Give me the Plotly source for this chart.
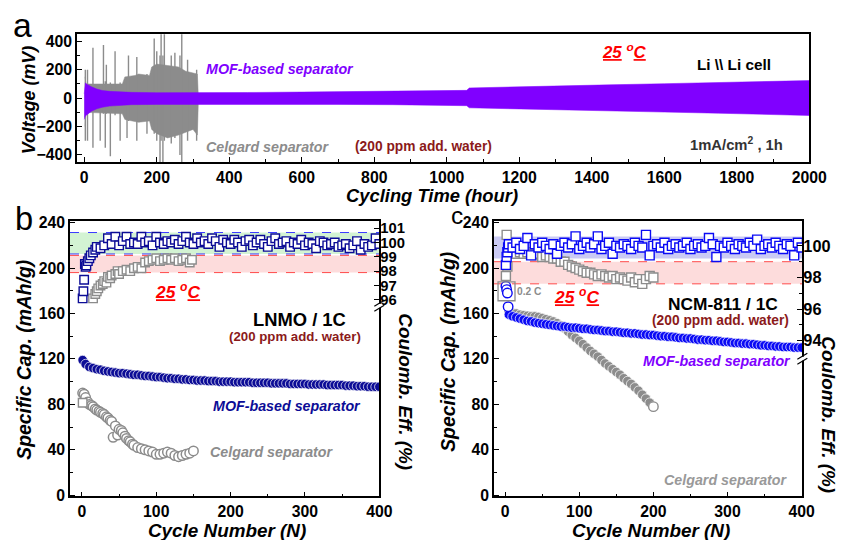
import plotly.graph_objects as go

FW, FH = 848, 540
# calibration of the photographed page (measured from previous renders)
SX, SY = 0.981, 0.976
OX, OY = 8, 14
FS = 1.02
FONT = 'Liberation Sans'


def px(x):
    return (x / SX - OX) / FW


def py(y):
    return 1 - (y / SY - OY) / FH


# ---------------- Panel a : Li || Li symmetric cell ----------------
mof_t = [0, 1, 3, 6, 12, 20, 35, 50, 70, 90, 130, 200, 300, 450, 600, 700, 850,
         1000, 1055, 1062, 1150, 1300, 1450, 1600, 1750, 1900, 2000]
mof_up = [30, 95, 108, 100, 90, 80, 64, 54, 48, 44, 41, 39, 38, 40, 43, 45, 48,
          52, 55, 72, 78, 86, 94, 102, 110, 118, 124]
mof_low = [-150, -140, -125, -118, -105, -92, -75, -64, -56, -50, -46, -44, -42, -42,
           -43, -44, -46, -50, -53, -68, -74, -82, -90, -98, -106, -114, -122]

cg_t = [2, 5, 60, 105, 112, 140, 150, 180, 186, 200, 230, 260, 280, 300, 312, 315]
cg_up = [150, 100, 100, 100, 150, 160, 170, 160, 220, 240, 230, 220, 190, 180, 170, 0]
cg_low = [-200, -100, -105, -110, -150, -165, -170, -160, -220, -250, -280, -260,
          -240, -220, -260, 0]

spike_t = [3, 9, 24, 44, 53, 58, 61, 72, 85, 99, 118, 122, 145, 173, 193, 200, 209,
           212, 217, 221, 240, 250, 264, 269, 285, 310]
spike_hi = [200, 200, 355, 100, 375, 120, 235, 110, 330, 110, 150, 300, 290, 170, 420,
            330, 300, 480, 300, 480, 300, 320, 300, 480, 270, 200]
spike_lo = [-300, -300, -350, -300, -110, -350, -110, -410, -120, -300, -280, -160,
            -300, -250, -250, -300, -480, -300, -480, -300, -320, -280, -400, -480,
            -300, -300]

# ---------------- Panel b : LNMO / 1C ----------------
b_mof_cyc = [1] + list(range(5, 401, 5))
b_mof_cap = [119, 115.5, 113, 112, 111, 110.5, 109.5, 109, 108.5, 108, 107.5, 107.5,
             107, 106.5, 106, 106, 105.5, 105, 105, 104.5, 104, 104, 103.5, 103, 103,
             102.5, 102.5, 102, 102, 101.5, 101.5, 101, 101, 101, 100.5, 100.5, 100.5,
             100, 100, 100, 100, 99.5, 99.5, 99.5, 99.5, 99.5, 99, 99, 99, 99, 99, 98.5,
             98.5, 98.5, 98.5, 98.5, 98, 98, 98, 98, 98, 97.5, 97.5, 97.5, 97.5, 97.5,
             97, 97, 97, 97, 97, 96.5, 96.5, 96.5, 96, 96, 96, 95.5, 95.5, 95.5, 95.5]

b_mof_ce_cyc = [1, 2, 3, 4, 5, 6, 8, 10, 12, 15, 18, 20] + list(range(25, 401, 5))
b_mof_ce = [96.1, 96.6, 97.4, 98.5, 98.3, 98.4, 98.7, 98.9, 99.1, 99.3, 99.5, 99.7,
            99.6, 99.8, 100.3, 99.9, 100.4, 99.8, 100.1, 100.4, 99.9, 100.0, 99.9,
            100.4, 100.0, 100.1, 99.8, 100.4, 100.0, 99.9, 100.1, 100.0, 100.2, 99.9,
            100.1, 100.4, 100.0, 99.9, 100.3, 100.0, 100.1, 99.9, 100.3, 100.1, 99.7,
            100.2, 100.0, 99.9, 100.2, 100.0, 99.7, 100.1, 100.2, 99.8, 100.0, 100.2,
            99.9, 99.7, 100.1, 100.3, 99.9, 100.0, 100.1, 99.7, 100.0, 99.9, 100.2,
            99.8, 100.0, 99.9, 99.6, 100.1, 100.0, 99.8, 99.9, 100.0, 99.7, 99.8, 99.9,
            99.6, 99.8, 100.1, 99.5, 99.9, 99.7, 99.8, 100.3, 99.9]

b_cg_cyc = [1, 3, 5, 8, 10, 13, 15, 18, 20, 23, 25, 28, 30, 33, 35, 38, 40, 42, 45,
            48, 50, 53, 55, 58, 60, 63, 65, 68, 70, 75, 80, 85, 90, 95, 100, 105, 110,
            115, 120, 125, 130, 135, 140, 145, 150]
b_cg_cap = [90, 89, 86, 82, 80, 79, 78, 76, 75, 74, 73, 72, 71, 69, 68, 66, 65, 51, 61,
            53, 58, 57, 55, 52, 50, 48, 47, 45, 44, 42, 41, 40, 39, 38, 36, 36, 37, 38,
            37, 35, 34, 35, 36, 37, 39]

b_cg_ce_cyc = [1, 15, 18, 20, 22, 25, 28, 30, 33, 35, 38, 40, 45, 48, 50, 55, 60, 65,
               70, 75, 80, 85, 90, 95, 100, 105, 110, 115, 120, 125, 130, 135, 140,
               145, 148]
b_cg_ce = [88.8, 96.1, 96.4, 96.6, 96.8, 97.0, 97.1, 97.3, 97.2, 97.6, 97.5, 97.7,
           97.8, 98.0, 97.8, 98.0, 98.1, 98.0, 98.2, 98.3, 98.2, 98.6, 98.7, 98.8,
           98.9, 98.7, 98.8, 98.9, 98.8, 98.9, 98.7, 98.8, 98.9, 98.6, 98.8]

# ---------------- Panel c : NCM-811 / 1C ----------------
c_mof_cyc = [1, 2, 3, 4] + list(range(5, 401, 5))
c_mof_cap = [184, 181, 178, 166, 159, 157.5, 156.5, 155.5, 154.5, 153.5, 153, 152,
             151.5, 151, 150.5, 150, 149.5, 149, 148.5, 148.5, 148, 147.5, 147.5, 147,
             146.5, 146.5, 146, 145.5, 145.5, 145, 144.5, 144.5, 144, 144, 143.5, 143,
             143, 142.5, 142.5, 142, 141.5, 141.5, 141, 141, 140.5, 140, 140, 139.5,
             139.5, 139, 138.5, 138.5, 138, 138, 137.5, 137, 137, 136.5, 136.5, 136,
             136, 135.5, 135, 135, 134.5, 134, 134, 133.5, 133.5, 133, 133, 132.5,
             132, 132, 131.5, 131.5, 131, 131, 130.5, 130.5, 130.5, 130, 130, 130]

c_mof_ce_cyc = [1, 2, 3, 4] + list(range(5, 401, 5))
c_mof_ce = [98.8, 99.3, 99.6, 99.9, 100.1, 99.9, 100.2, 99.8, 100.0, 100.5, 99.4,
            100.1, 99.9, 100.2, 100.0, 99.8, 100.1, 99.5, 100.0, 100.2, 99.9, 100.1,
            100.6, 99.8, 100.0, 100.2, 99.9, 100.1, 100.6, 99.8, 100.0, 100.2, 99.5,
            100.0, 99.9, 100.1, 100.0, 99.8, 100.2, 100.0, 99.9, 100.7, 99.4, 100.0,
            100.1, 99.9, 100.2, 99.8, 100.0, 100.1, 99.9, 100.0, 100.2, 99.8, 100.0,
            100.1, 99.9, 100.0, 100.5, 100.1, 99.3, 100.0, 99.9, 100.2, 100.0, 99.8,
            100.1, 100.0, 99.9, 100.2, 100.0, 100.4, 99.8, 100.0, 100.1, 99.9, 100.2,
            100.0, 99.8, 100.1, 100.0, 99.4, 100.2, 99.9]

c_cg_cyc = list(range(5, 201, 5))
c_cg_cap = [162, 160.5, 160, 159, 158.5, 158, 157.5, 157.5, 157, 156, 155, 154, 153,
            151.5, 149.5, 147, 144, 141, 138.5, 136, 133, 130, 127, 124.5, 122, 119,
            116, 113.5, 111, 108.5, 106, 103, 100.5, 98, 95, 92, 88.5, 85, 81.5, 78]

c_cg_ce_cyc = [1, 2, 3, 5, 10, 15, 20, 25, 30, 35, 40, 45, 50, 55, 60, 65, 70, 75, 80,
               85, 90, 95, 100, 105, 110, 115, 120, 125, 130, 135, 140, 145, 150, 155,
               160, 165, 170, 175, 180, 185, 190, 195, 200]
c_cg_ce = [98.1, 100.7, 98.7, 99.5, 99.6, 99.5, 99.6, 99.5, 99.6, 99.5, 99.4, 99.5,
           99.3, 99.4, 99.3, 99.2, 99.2, 99.0, 99.0, 98.8, 98.7, 98.6, 98.5, 98.4,
           98.3, 98.3, 98.2, 98.1, 98.2, 98.1, 98.0, 98.1, 97.9, 98.0, 97.9, 97.8,
           98.0, 97.7, 97.9, 97.6, 97.9, 98.1, 98.0]

# reference bands (CE %)
b_green_band = (99.2, 100.7)
b_pink_band = (97.9, 99.1)
c_blue_band = (99.2, 100.6)
c_pink_band = (97.6, 99.0)

PURPLE = '#8000FF'
GRAY = '#8c8c8c'
NAVY = '#0c0c96'
BLUE = '#0a0af5'
DARKRED = '#8B1A1A'
RED = '#FF0000'

fig = go.Figure()

# ---- panel a traces
fig.add_trace(go.Scatter(
    x=cg_t + cg_t[::-1], y=cg_up + cg_low[::-1], fill='toself', fillcolor=GRAY,
    mode='lines', line=dict(width=0.5, color=GRAY), xaxis='x', yaxis='y',
    showlegend=False, hoverinfo='skip'))
sx, sy = [], []
for t, hi, lo in zip(spike_t, spike_hi, spike_lo):
    sx += [t, t, None]
    sy += [lo, hi, None]
fig.add_trace(go.Scatter(x=sx, y=sy, mode='lines', line=dict(width=1.4, color=GRAY),
                         xaxis='x', yaxis='y', showlegend=False, hoverinfo='skip'))
fig.add_trace(go.Scatter(
    x=mof_t + mof_t[::-1], y=mof_up + mof_low[::-1], fill='toself', fillcolor=PURPLE,
    mode='lines', line=dict(width=0.5, color=PURPLE), xaxis='x', yaxis='y',
    showlegend=False, hoverinfo='skip'))


def open_mk(color, symbol, size=8.5, lw=1.4):
    return dict(symbol=symbol, size=size, color='white', line=dict(color=color, width=lw))


def dense_mk(color, size=9.5):
    return dict(symbol='circle', size=size, color=color, line=dict(color='white', width=0.7))


# ---- panel b traces
fig.add_trace(go.Scatter(x=b_cg_cyc, y=b_cg_cap, mode='markers',
                         marker=open_mk(GRAY, 'circle', 9.5, 1.5),
                         xaxis='x2', yaxis='y2', showlegend=False))
fig.add_trace(go.Scatter(x=b_mof_cyc, y=b_mof_cap, mode='markers', marker=dense_mk(NAVY),
                         xaxis='x2', yaxis='y2', showlegend=False))
fig.add_trace(go.Scatter(x=b_cg_ce_cyc, y=b_cg_ce, mode='markers',
                         marker=open_mk(GRAY, 'square'),
                         xaxis='x2', yaxis='y3', showlegend=False))
fig.add_trace(go.Scatter(x=b_mof_ce_cyc, y=b_mof_ce, mode='markers',
                         marker=open_mk(NAVY, 'square'),
                         xaxis='x2', yaxis='y3', showlegend=False))

# ---- panel c traces
fig.add_trace(go.Scatter(x=c_cg_cyc, y=c_cg_cap, mode='markers', marker=dense_mk(GRAY),
                         xaxis='x4', yaxis='y4', showlegend=False))
fig.add_trace(go.Scatter(x=c_cg_cyc[-1:], y=c_cg_cap[-1:], mode='markers',
                         marker=open_mk(GRAY, 'circle', 9.5),
                         xaxis='x4', yaxis='y4', showlegend=False))
fig.add_trace(go.Scatter(x=c_mof_cyc[4:], y=c_mof_cap[4:], mode='markers',
                         marker=dense_mk(BLUE),
                         xaxis='x4', yaxis='y4', showlegend=False))
fig.add_trace(go.Scatter(x=c_mof_cyc[:4], y=c_mof_cap[:4], mode='markers',
                         marker=open_mk(BLUE, 'circle', 9.5),
                         xaxis='x4', yaxis='y4', showlegend=False))
fig.add_trace(go.Scatter(x=c_cg_ce_cyc, y=c_cg_ce, mode='markers',
                         marker=open_mk(GRAY, 'square', 9),
                         xaxis='x4', yaxis='y5', showlegend=False))
fig.add_trace(go.Scatter(x=c_mof_ce_cyc, y=c_mof_ce, mode='markers',
                         marker=open_mk(BLUE, 'square', 9),
                         xaxis='x4', yaxis='y5', showlegend=False))

tickfont = dict(family=FONT, size=15.5 * FS, color='black', weight='bold')
tickfont_b = dict(family=FONT, size=14.5 * FS, color='black', weight='bold')
tickfont_c = dict(family=FONT, size=16 * FS, color='black', weight='bold')


def ax(**kw):
    d = dict(showline=True, linecolor='black', linewidth=1.5, mirror=True,
             ticks='inside', ticklen=5, tickwidth=1.3, tickcolor='black',
             showgrid=False, zeroline=False, tickfont=tickfont)
    d.update(kw)
    return d


def minor(dt):
    return dict(ticks='inside', ticklen=3, tickwidth=1, tickcolor='black', dtick=dt,
                showgrid=False)


fig.update_layout(
    width=FW, height=FH, margin=dict(l=0, r=0, t=0, b=0),
    paper_bgcolor='white', plot_bgcolor='rgba(0,0,0,0)',
    xaxis=ax(domain=[px(77), px(811)], anchor='y', range=[-20, 2000], dtick=200, tick0=0,
             minor=minor(100)),
    yaxis=ax(domain=[py(161), py(33)], anchor='x', range=[-450, 450], dtick=200, tick0=0,
             minor=minor(100)),
    xaxis2=ax(domain=[px(70), px(380)], anchor='y2', range=[-16, 400], dtick=100, tick0=0,
              minor=minor(50)),
    yaxis2=ax(domain=[py(496), py(220)], anchor='x2', range=[-1, 241.5], dtick=40, tick0=0,
              minor=minor(20)),
    yaxis3=ax(overlaying='y2', side='right', anchor='x2', range=[82.26, 101.51],
              tickvals=[96, 97, 98, 99, 100, 101], showline=False, mirror=False,
              tickfont=tickfont_b),
    xaxis4=ax(domain=[px(495), px(804)], anchor='y4', range=[-15, 401], dtick=100, tick0=0,
              minor=minor(50)),
    yaxis4=ax(domain=[py(496), py(220)], anchor='x4', range=[-1, 241.5], dtick=40, tick0=0,
              minor=minor(20)),
    yaxis5=ax(overlaying='y4', side='right', anchor='x4', range=[84.15, 101.58],
              tickvals=[94, 96, 98, 100], showline=False, mirror=False,
              minor=dict(ticks='inside', ticklen=3, tickwidth=1, tickcolor='black',
                         tickvals=[95, 97, 99], showgrid=False),
              tickfont=tickfont_c),
)

shapes = []
# bands panel b
shapes.append(dict(type='rect', xref='x2', yref='y3', x0=-16, x1=400, y0=b_green_band[0],
                   y1=b_green_band[1], fillcolor='#d3f3d3', line=dict(width=0), layer='below'))
shapes.append(dict(type='rect', xref='x2', yref='y3', x0=-16, x1=400, y0=b_pink_band[0],
                   y1=b_pink_band[1], fillcolor='#fddcdc', line=dict(width=0), layer='below'))
for v in b_green_band:
    shapes.append(dict(type='line', xref='x2', yref='y3', x0=-16, x1=400, y0=v, y1=v,
                       line=dict(color='#3a3aff', width=1, dash='dash'), layer='below'))
for v in b_pink_band:
    shapes.append(dict(type='line', xref='x2', yref='y3', x0=-16, x1=400, y0=v, y1=v,
                       line=dict(color='#ff4a4a', width=1, dash='dash'), layer='below'))
# bands panel c
shapes.append(dict(type='rect', xref='x4', yref='y5', x0=-15, x1=401, y0=c_blue_band[0],
                   y1=c_blue_band[1], fillcolor='#cacaf4', line=dict(width=0), layer='below'))
shapes.append(dict(type='rect', xref='x4', yref='y5', x0=-15, x1=401, y0=c_pink_band[0],
                   y1=c_pink_band[1], fillcolor='#fddcdc', line=dict(width=0), layer='below'))
for v in c_pink_band:
    shapes.append(dict(type='line', xref='x4', yref='y5', x0=-15, x1=401, y0=v, y1=v,
                       line=dict(color='#ff4a4a', width=1, dash='dash'), layer='below'))
# 0.2 C box
shapes.append(dict(type='rect', xref='paper', yref='paper', x0=px(499), x1=px(516),
                   y0=py(300), y1=py(281), line=dict(color='#8c8c8c', width=1.3)))
# axis breaks
for (bx, by) in [(380, 305), (804, 358)]:
    shapes.append(dict(type='rect', xref='paper', yref='paper', x0=px(bx - 3), x1=px(bx + 3),
                       y0=py(by + 2), y1=py(by - 2), fillcolor='white', line=dict(width=0)))
    for off in (-2.5, 2.5):
        shapes.append(dict(type='line', xref='paper', yref='paper', x0=px(bx - 5),
                           y0=py(by + 3 + off), x1=px(bx + 5), y1=py(by - 3 + off),
                           line=dict(color='black', width=1.2)))
fig.update_layout(shapes=shapes)

ann = []


def add(text, x, y, size, color='black', angle=0):
    ann.append(dict(text=text, x=px(x), y=py(y), xref='paper', yref='paper',
                    showarrow=False, xanchor='center', yanchor='middle', textangle=angle,
                    font=dict(family=FONT, size=size * FS, color=color)))


deg = '<b><i><u>25</u> <sup>o</sup><u>C</u></i></b>'
# panel letters
add('a', 22, 24, 33)
add('b', 24, 218, 32)
add('c', 458, 215, 24)
# panel a
add('<b><i>MOF-based separator</i></b>', 280, 68, 14, PURPLE)
add('<b><i>Celgard separator</i></b>', 268, 146, 14, GRAY)
add('<b>(200 ppm add. water)</b>', 424, 145, 13.5, DARKRED)
add(deg, 626, 50, 16.5, RED)
add('<b>Li \\\\ Li cell</b>', 735, 63, 15)
add('<b>1mA/cm<sup>2</sup> , 1h</b>', 738, 143, 14.5, '#333333')
add('<b><i>Voltage (mV)</i></b>', 29, 99, 17.5, angle=-90)
add('<b><i>Cycling Time (hour)</i></b>', 433, 195, 18)
# panel b
add(deg, 178, 290, 17, RED)
add('<b>LNMO / 1C</b>', 300, 319, 18)
add('<b>(200 ppm add. water)</b>', 296, 336, 13, DARKRED)
add('<b><i>MOF-based separator</i></b>', 287, 405, 14, NAVY)
add('<b><i>Celgard separator</i></b>', 272, 452, 14, GRAY)
add('<b><i>Specific Cap. (mAh/g)</i></b>', 24, 359, 19, angle=-90)
add('<b><i>Cycle Number (N)</i></b>', 227, 530, 18.5)
add('<b><i>Coulomb. Eff. (%)</i></b>', 406, 391, 18.5, angle=90)
# panel c
add('<b>0.2 C</b>', 531, 291, 10, '#8c8c8c')
add(deg, 578, 295, 17, RED)
add('<b>NCM-811 / 1C</b>', 724, 303, 17)
add('<b>(200 ppm add. water)</b>', 722, 320, 13.5, DARKRED)
add('<b><i>MOF-based separator</i></b>', 718, 360, 14, PURPLE)
add('<b><i>Celgard separator</i></b>', 727, 480, 14, '#999999')
add('<b><i>Specific Cap. (mAh/g)</i></b>', 449, 351, 19, angle=-90)
add('<b><i>Cycle Number (N)</i></b>', 652, 530, 18.5)
add('<b><i>Coulomb. Eff. (%)</i></b>', 830, 414, 18.5, angle=90)
fig.update_layout(annotations=ann)

fig.write_html('out.html')
